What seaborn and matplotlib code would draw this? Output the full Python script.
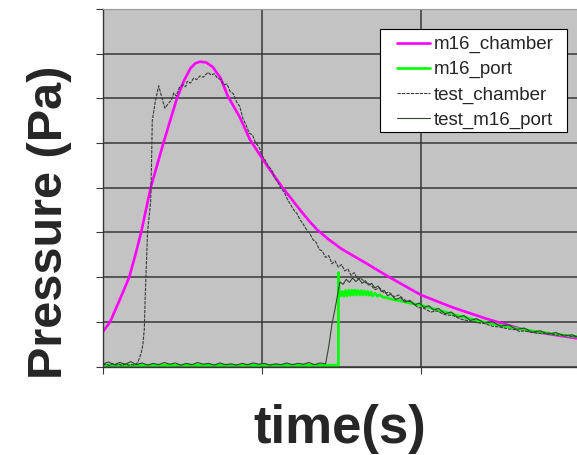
import numpy as np
import pandas as pd
import seaborn as sns
import matplotlib.pyplot as plt
from matplotlib.patches import Rectangle

# m16 model, chamber pressure
chamber_t = [0, 0.045, 0.10, 0.13, 0.165, 0.20, 0.24, 0.30, 0.38, 0.465, 0.51, 0.55, 0.58, 0.61,
             0.65, 0.69, 0.74, 0.785, 0.86, 0.925, 1.03, 1.13, 1.24, 1.30, 1.35, 1.42, 1.5,
             1.65, 1.8, 2.0, 2.2, 2.41, 2.67, 3.0]
chamber_p = [0.78, 1.0, 1.45, 1.70, 2.0, 2.45, 3.0, 4.0, 5.0, 6.0, 6.4, 6.67, 6.78, 6.82,
             6.8, 6.7, 6.45, 6.05, 5.58, 5.07, 4.5, 4.0, 3.5, 3.24, 3.05, 2.84, 2.63,
             2.32, 2.0, 1.6, 1.32, 1.07, 0.8, 0.62]

# m16 model, port pressure
port_t = [0, 1.48, 1.481, 1.487, 1.495, 1.505, 1.515, 1.525, 1.535, 1.545, 1.555, 1.565, 1.575,
          1.585, 1.595, 1.605, 1.615, 1.625, 1.635, 1.645, 1.655, 1.665, 1.675, 1.685, 1.695,
          1.71, 1.725, 1.74, 1.76, 1.78, 1.82, 1.88, 1.94, 2.00, 2.08, 2.16, 2.24, 2.31, 2.40,
          2.50, 2.62, 2.75, 2.88, 3.00]
port_p = [0.03, 0.03, 2.10, 1.62, 1.58, 1.68, 1.57, 1.70, 1.58, 1.71, 1.59, 1.71, 1.60,
          1.71, 1.60, 1.70, 1.60, 1.70, 1.60, 1.69, 1.60, 1.68, 1.59, 1.67, 1.58,
          1.64, 1.57, 1.61, 1.55, 1.54, 1.50, 1.46, 1.41, 1.37, 1.29, 1.21, 1.13, 1.07, 0.99,
          0.92, 0.84, 0.77, 0.71, 0.66]

# measured chamber pressure
test_chamber_t = [0.00, 0.02, 0.04, 0.06, 0.08, 0.10, 0.12, 0.14, 0.16, 0.18, 0.20, 0.22, 0.24,
                  0.25, 0.26, 0.265, 0.28, 0.30, 0.305, 0.31, 0.33, 0.35, 0.36, 0.375, 0.39,
                  0.41, 0.43, 0.445, 0.46, 0.48, 0.50, 0.52, 0.53, 0.55, 0.57, 0.59, 0.61,
                  0.63, 0.66, 0.68, 0.70, 0.72, 0.74, 0.76, 0.78, 0.80, 0.82, 0.84, 0.86,
                  0.88, 0.90, 0.92, 0.94, 0.96, 0.98, 1.00, 1.02, 1.04, 1.06, 1.08, 1.10,
                  1.12, 1.14, 1.16, 1.18, 1.20, 1.22, 1.24, 1.26, 1.28, 1.30, 1.32, 1.34,
                  1.36, 1.38, 1.40, 1.42, 1.44, 1.46, 1.48, 1.50, 1.52, 1.54, 1.56, 1.58,
                  1.60, 1.62, 1.65, 1.68, 1.71, 1.74, 1.77, 1.80, 1.83, 1.86, 1.90, 1.94,
                  1.98, 2.02, 2.06, 2.10, 2.15, 2.20, 2.25, 2.30, 2.35, 2.40, 2.45, 2.50,
                  2.55, 2.60, 2.62, 2.65, 2.70, 2.75, 2.80, 2.85, 2.90, 2.95, 3.00]
test_chamber_p = [0.03, 0.06, 0.02, 0.07, 0.03, 0.05, 0.02, 0.06, 0.03, 0.04, 0.03, 0.10, 0.30,
                  0.47, 0.84, 1.5, 3.0, 3.7, 4.5, 5.5, 5.95, 6.28, 6.15, 5.95, 5.78,
                  5.88, 5.96, 6.12, 6.05, 6.24, 6.30, 6.26, 6.38, 6.34, 6.45, 6.42, 6.50,
                  6.47, 6.58, 6.52, 6.55, 6.45, 6.42, 6.30, 6.32, 6.15, 6.10, 5.92, 5.82,
                  5.55, 5.40, 5.22, 5.18, 5.00, 4.92, 4.72, 4.62, 4.48, 4.40, 4.22, 4.12,
                  3.98, 3.90, 3.74, 3.62, 3.50, 3.42, 3.28, 3.18, 3.06, 2.98, 2.84, 2.78,
                  2.62, 2.58, 2.44, 2.48, 2.30, 2.36, 2.22, 2.28, 2.14, 2.18, 2.04, 2.10,
                  1.96, 1.98, 1.88, 1.84, 1.72, 1.76, 1.64, 1.66, 1.56, 1.60, 1.48, 1.45,
                  1.32, 1.30, 1.22, 1.24, 1.16, 1.14, 1.06, 1.02, 0.98, 0.96, 0.90, 0.88,
                  0.84, 0.82, 0.78, 0.80, 0.76, 0.74, 0.75, 0.70, 0.71, 0.67, 0.66]

# measured port pressure
test_port_t = [0.00, 0.035, 0.07, 0.105, 0.14, 0.175, 0.21, 0.245, 0.28, 0.315, 0.35, 0.385,
               0.42, 0.455, 0.49, 0.525, 0.56, 0.595, 0.63, 0.665, 0.70, 0.735, 0.77, 0.805,
               0.84, 0.875, 0.91, 0.945, 0.98, 1.015, 1.05, 1.085, 1.12, 1.155, 1.19, 1.225,
               1.26, 1.295, 1.33, 1.365, 1.40, 1.42, 1.44, 1.46, 1.47, 1.48, 1.49, 1.51,
               1.53, 1.55, 1.57, 1.59, 1.61, 1.63, 1.65, 1.67, 1.69, 1.71, 1.73, 1.75,
               1.77, 1.79, 1.81, 1.84, 1.87, 1.90, 1.93, 1.96, 1.99, 2.02, 2.05, 2.08,
               2.11, 2.15, 2.19, 2.23, 2.27, 2.31, 2.35, 2.40, 2.45, 2.50, 2.55, 2.60,
               2.65, 2.70, 2.75, 2.80, 2.85, 2.90, 2.95, 3.00]
test_port_p = [0.06, 0.10, 0.04, 0.09, 0.05, 0.11, 0.04, 0.08, 0.03, 0.07, 0.04, 0.09,
               0.05, 0.08, 0.03, 0.07, 0.04, 0.09, 0.05, 0.07, 0.03, 0.08, 0.04, 0.06,
               0.03, 0.07, 0.04, 0.08, 0.05, 0.07, 0.03, 0.06, 0.04, 0.08, 0.04, 0.07,
               0.05, 0.09, 0.04, 0.08, 0.06, 0.45, 0.95, 1.30, 1.50, 1.70, 1.89, 1.84,
               1.95, 1.88, 1.98, 1.90, 1.96, 1.86, 1.92, 1.82, 1.86, 1.76, 1.80, 1.68,
               1.70, 1.58, 1.62, 1.50, 1.54, 1.44, 1.48, 1.38, 1.42, 1.32, 1.36, 1.26,
               1.30, 1.18, 1.22, 1.10, 1.14, 1.03, 1.07, 0.97, 1.00, 0.90, 0.93, 0.83,
               0.86, 0.77, 0.80, 0.72, 0.76, 0.68, 0.71, 0.64]

sns.set_style("whitegrid", {"axes.facecolor": "#c3c3c3", "grid.color": "#383838",
                            "axes.edgecolor": "#383838"})
plt.rcParams["font.family"] = ["Liberation Sans", "DejaVu Sans"]

fig = plt.figure(figsize=(5.77, 4.55), dpi=100)
ax = fig.add_axes([0.1785, 0.1945, 0.8267, 0.786])

sns.lineplot(x=chamber_t, y=chamber_p, ax=ax, color="#ff00ff", linewidth=1.9,
             label="m16_chamber", estimator=None, sort=False)
sns.lineplot(x=port_t, y=port_p, ax=ax, color="#00ff00", linewidth=1.9,
             label="m16_port", estimator=None, sort=False)
sns.lineplot(x=test_chamber_t, y=test_chamber_p, ax=ax, color="#3a3a3a", linewidth=0.8,
             linestyle=(0, (3, 1)), label="test_chamber", estimator=None, sort=False)
sns.lineplot(x=test_port_t, y=test_port_p, ax=ax, color="#344634", linewidth=0.8,
             label="test_m16_port", estimator=None, sort=False)

ax.set_xlim(0, 3)
ax.set_ylim(0, 8)
ax.set_xticks([0, 1, 2, 3])
ax.set_yticks(range(9))
ax.set_xticklabels([])
ax.set_yticklabels([])
ax.grid(True, linewidth=1.1)
ax.tick_params(axis="both", which="both", direction="out", length=5, width=0.8,
               color="#383838", left=True, bottom=True)
ax.set_xlabel("")
ax.set_ylabel("")
for side in ["left", "bottom"]:
    ax.spines[side].set_linewidth(1.0)
ax.spines["top"].set_color("#9a9a9a")
ax.spines["right"].set_visible(False)

# legend box drawn separately so the inner padding matches
ax.add_patch(Rectangle((380 / 577, 1 - 132 / 455), 187 / 577, 103 / 455,
                       transform=fig.transFigure, clip_on=False, facecolor="white",
                       edgecolor="black", linewidth=0.8, zorder=4.9))
leg = ax.legend(loc="upper left", bbox_to_anchor=(397 / 577, 1 - 36 / 455),
                bbox_transform=fig.transFigure, borderaxespad=0, borderpad=0,
                fontsize=13.5, frameon=False, handlelength=1.76, handletextpad=0.2,
                labelspacing=0.42)

fig.text(50 / 577, 0.512, "Pressure (Pa)", rotation=90, ha="center", va="center",
         fontsize=35, fontweight="bold")
fig.text(340 / 577, 1 - 443 / 455, "time(s)", ha="center", va="baseline",
         fontsize=38, fontweight="bold")

plt.savefig("out.png", dpi=100)
